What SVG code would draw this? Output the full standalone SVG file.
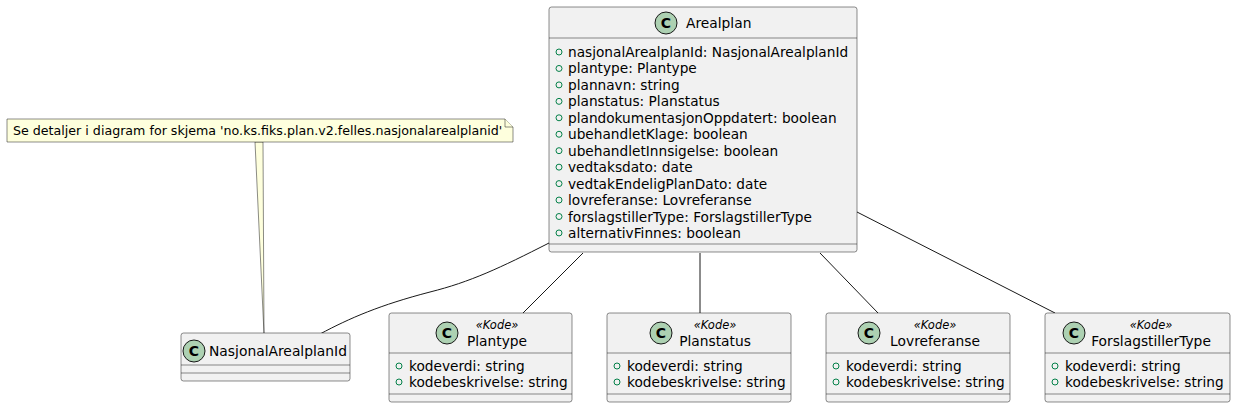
<svg xmlns="http://www.w3.org/2000/svg" width="1235" height="408" viewBox="0 0 1235 408">
<style>
.box{fill:#F1F1F1;stroke:#181818;stroke-width:0.5}
.sep{stroke:#181818;stroke-width:0.5}
.ci{fill:#ADD1B2;stroke:#181818;stroke-width:1}
.cl{font-family:"DejaVu Sans",sans-serif;font-size:14px;font-weight:bold;fill:#000;text-anchor:middle}
.t{font-family:"DejaVu Sans",sans-serif;font-size:13.7px;fill:#000}
.h{font-family:"DejaVu Sans",sans-serif;font-size:13.8px;fill:#000}
.tm{font-family:"DejaVu Sans",sans-serif;font-size:13.8px;fill:#000;text-anchor:middle}
.st{font-family:"DejaVu Sans",sans-serif;font-size:11.5px;font-style:italic;fill:#000;text-anchor:middle}
.b{fill:none;stroke:#038048;stroke-width:1}
.ln{fill:none;stroke:#181818;stroke-width:1}
.nt{fill:#FEFFDD;stroke:#181818;stroke-width:0.5}
.nf{font-family:"DejaVu Sans",sans-serif;font-size:12.65px;fill:#000}
</style>
<g id="connectors">
<path class="ln" d="M549,243 C500,268 470,282 430,292 C380,305 350,318 320,334"/>
<line class="ln" x1="583" y1="253" x2="523" y2="313"/>
<line class="ln" x1="700" y1="253" x2="700" y2="313"/>
<line class="ln" x1="820" y1="253" x2="878" y2="313"/>
<line class="ln" x1="857" y1="212" x2="1055" y2="313"/>
</g>
<g id="note">
<path class="nt" d="M255,142 L264,334 L263,142 Z"/>
<path class="nt" d="M7,119 L505,119 L513,127 L513,142 L7,142 Z"/>
<path class="nt" d="M505,119 L505,127 L513,127"/>
<text class="nf" x="13" y="135">Se detaljer i diagram for skjema 'no.ks.fiks.plan.v2.felles.nasjonalarealplanid'</text>
</g>
<g id="Arealplan">
<rect class="box" x="549" y="7" width="308" height="245" rx="2.5"/>
<line class="sep" x1="549" y1="38" x2="857" y2="38"/>
<line class="sep" x1="549" y1="244" x2="857" y2="244"/>
<circle class="ci" cx="666" cy="23" r="11"/>
<text class="cl" x="666" y="28">C</text>
<text class="h" x="686" y="28">Arealplan</text>
<g>
<circle class="b" cx="559" cy="52" r="3"/><text class="t" x="568" y="57">nasjonalArealplanId: NasjonalArealplanId</text>
<circle class="b" cx="559" cy="68.45" r="3"/><text class="t" x="568" y="73.45">plantype: Plantype</text>
<circle class="b" cx="559" cy="84.9" r="3"/><text class="t" x="568" y="89.9">plannavn: string</text>
<circle class="b" cx="559" cy="101.35" r="3"/><text class="t" x="568" y="106.35">planstatus: Planstatus</text>
<circle class="b" cx="559" cy="117.8" r="3"/><text class="t" x="568" y="122.8">plandokumentasjonOppdatert: boolean</text>
<circle class="b" cx="559" cy="134.25" r="3"/><text class="t" x="568" y="139.25">ubehandletKlage: boolean</text>
<circle class="b" cx="559" cy="150.7" r="3"/><text class="t" x="568" y="155.7">ubehandletInnsigelse: boolean</text>
<circle class="b" cx="559" cy="167.15" r="3"/><text class="t" x="568" y="172.15">vedtaksdato: date</text>
<circle class="b" cx="559" cy="183.6" r="3"/><text class="t" x="568" y="188.6">vedtakEndeligPlanDato: date</text>
<circle class="b" cx="559" cy="200.05" r="3"/><text class="t" x="568" y="205.05">lovreferanse: Lovreferanse</text>
<circle class="b" cx="559" cy="216.5" r="3"/><text class="t" x="568" y="221.5">forslagstillerType: ForslagstillerType</text>
<circle class="b" cx="559" cy="232.95" r="3"/><text class="t" x="568" y="237.95">alternativFinnes: boolean</text>
</g>
</g>
<g id="NasjonalArealplanId">
<rect class="box" x="181" y="333" width="169" height="48" rx="2.5"/>
<line class="sep" x1="181" y1="365" x2="350" y2="365"/>
<line class="sep" x1="181" y1="373" x2="350" y2="373"/>
<circle class="ci" cx="194" cy="351" r="11"/>
<text class="cl" x="194" y="356">C</text>
<text class="h" x="209" y="356" textLength="138" lengthAdjust="spacingAndGlyphs">NasjonalArealplanId</text>
</g>
<g id="Plantype">
<rect class="box" x="389" y="313" width="183" height="89" rx="2.5"/>
<line class="sep" x1="389" y1="353" x2="572" y2="353"/>
<line class="sep" x1="389" y1="394" x2="572" y2="394"/>
<circle class="ci" cx="447" cy="333" r="11"/>
<text class="cl" x="447" y="338">C</text>
<text class="st" x="497" y="329">«Kode»</text>
<text class="tm" x="497" y="346">Plantype</text>
<circle class="b" cx="399" cy="366" r="3"/><text class="t" x="409" y="371">kodeverdi: string</text>
<circle class="b" cx="399" cy="382" r="3"/><text class="t" x="409" y="387">kodebeskrivelse: string</text>
</g>
<g id="Planstatus">
<rect class="box" x="607" y="313" width="184" height="89" rx="2.5"/>
<line class="sep" x1="607" y1="353" x2="791" y2="353"/>
<line class="sep" x1="607" y1="394" x2="791" y2="394"/>
<circle class="ci" cx="661" cy="333" r="11"/>
<text class="cl" x="661" y="338">C</text>
<text class="st" x="715" y="329">«Kode»</text>
<text class="tm" x="715" y="346">Planstatus</text>
<circle class="b" cx="617" cy="366" r="3"/><text class="t" x="627" y="371">kodeverdi: string</text>
<circle class="b" cx="617" cy="382" r="3"/><text class="t" x="627" y="387">kodebeskrivelse: string</text>
</g>
<g id="Lovreferanse">
<rect class="box" x="826" y="313" width="184" height="89" rx="2.5"/>
<line class="sep" x1="826" y1="353" x2="1010" y2="353"/>
<line class="sep" x1="826" y1="394" x2="1010" y2="394"/>
<circle class="ci" cx="869" cy="333" r="11"/>
<text class="cl" x="869" y="338">C</text>
<text class="st" x="935" y="329">«Kode»</text>
<text class="tm" x="935" y="346">Lovreferanse</text>
<circle class="b" cx="836" cy="366" r="3"/><text class="t" x="846" y="371">kodeverdi: string</text>
<circle class="b" cx="836" cy="382" r="3"/><text class="t" x="846" y="387">kodebeskrivelse: string</text>
</g>
<g id="ForslagstillerType">
<rect class="box" x="1045" y="313" width="185" height="89" rx="2.5"/>
<line class="sep" x1="1045" y1="353" x2="1230" y2="353"/>
<line class="sep" x1="1045" y1="394" x2="1230" y2="394"/>
<circle class="ci" cx="1074" cy="333" r="11"/>
<text class="cl" x="1074" y="338">C</text>
<text class="st" x="1151" y="329">«Kode»</text>
<text class="tm" x="1151" y="346">ForslagstillerType</text>
<circle class="b" cx="1055" cy="366" r="3"/><text class="t" x="1065" y="371">kodeverdi: string</text>
<circle class="b" cx="1055" cy="382" r="3"/><text class="t" x="1065" y="387">kodebeskrivelse: string</text>
</g>
</svg>
